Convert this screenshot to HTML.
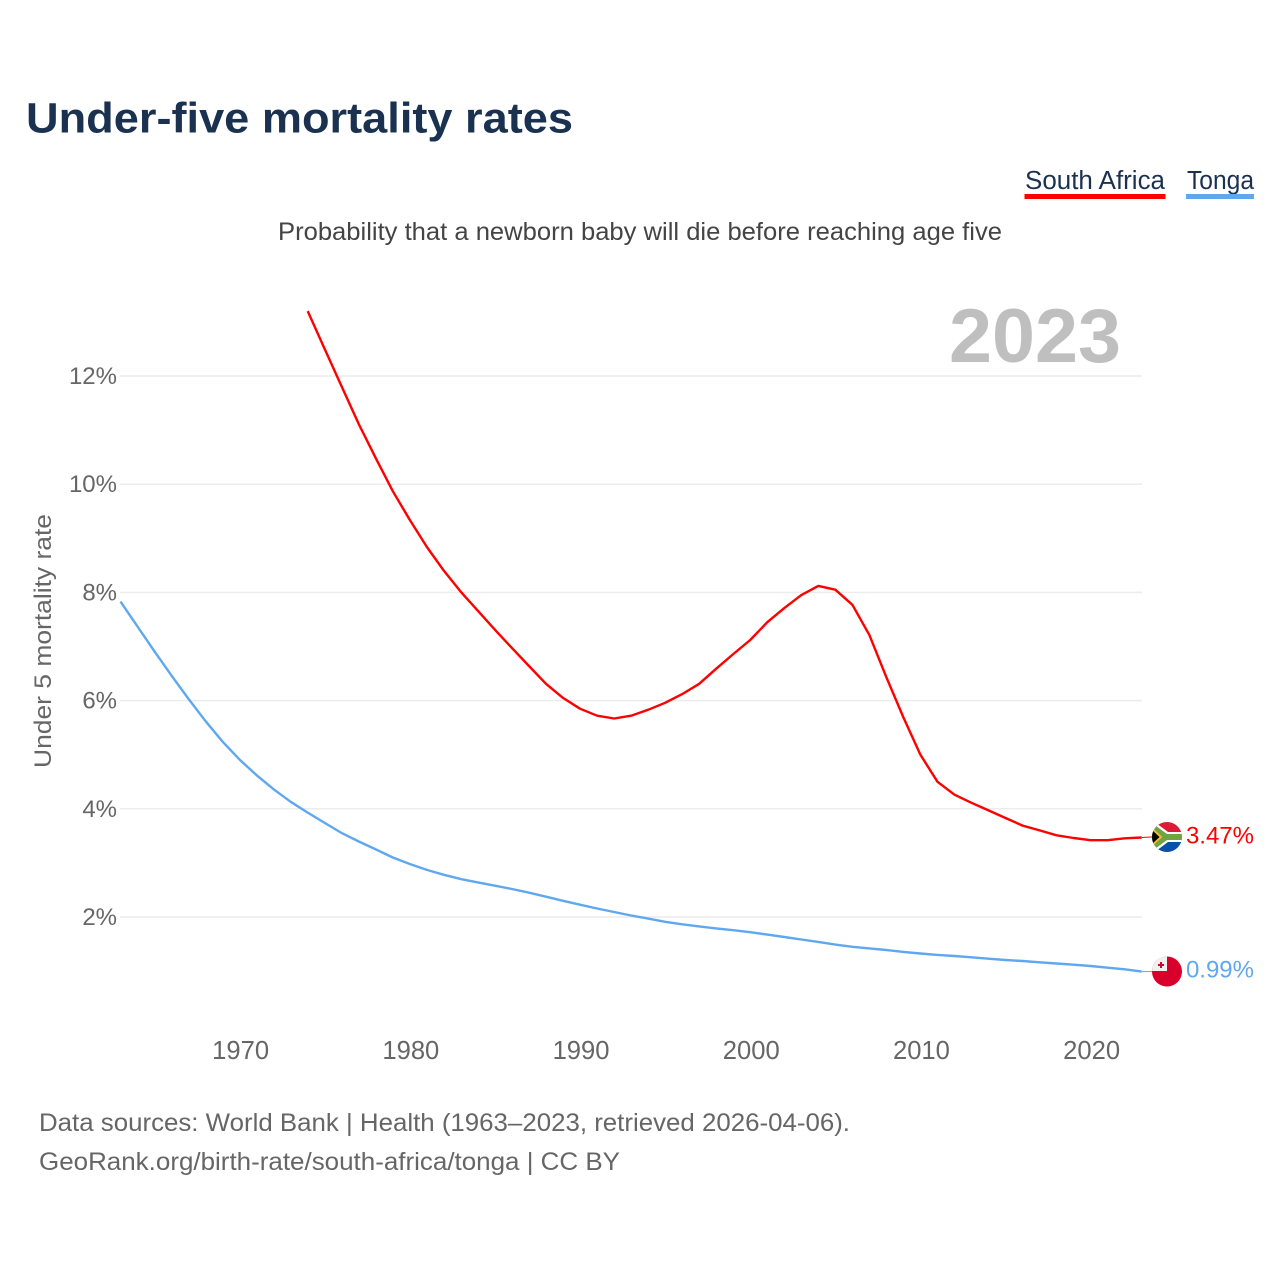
<!DOCTYPE html>
<html lang="en">
<head>
<meta charset="utf-8">
<title>Under-five mortality rates</title>
<style>
html,body{margin:0;padding:0;background:#fff;width:1280px;height:1280px;overflow:hidden}
svg{display:block;font-family:"Liberation Sans",sans-serif}
</style>
</head>
<body>
<svg id="chart" width="1280" height="1280" viewBox="0 0 1280 1280" xmlns="http://www.w3.org/2000/svg">
  <defs>
    <clipPath id="clip-za"><circle cx="1167" cy="837" r="15"/></clipPath>
    <clipPath id="clip-to"><circle cx="1167" cy="971.500" r="15"/></clipPath>
  </defs>
  <rect width="1280" height="1280" fill="#fff"/>
  <text x="26" y="132.500" font-size="43" font-weight="700" fill="#1a3150" textLength="547" lengthAdjust="spacingAndGlyphs">Under-five mortality rates</text>
  <g>
    <text x="1025" y="189" font-size="25.500" fill="#1a3150" textLength="140" lengthAdjust="spacingAndGlyphs">South Africa</text>
    <rect x="1024.500" y="194" width="141" height="5" fill="#ff0000"/>
    <text x="1187" y="189" font-size="25.500" fill="#1a3150" textLength="67" lengthAdjust="spacingAndGlyphs">Tonga</text>
    <rect x="1186" y="194" width="68" height="5" fill="#5fa8f0"/>
  </g>
  <text x="278" y="240" font-size="25" fill="#444" textLength="724" lengthAdjust="spacingAndGlyphs">Probability that a newborn baby will die before reaching age five</text>
  <text x="949" y="362" font-size="76" font-weight="700" fill="#bfbfbf" textLength="172" lengthAdjust="spacingAndGlyphs">2023</text>
  <text transform="translate(51,768) rotate(-90)" x="0" y="0" font-size="24.500" fill="#666" textLength="254" lengthAdjust="spacingAndGlyphs">Under 5 mortality rate</text>
  <g id="grid"></g>
  <g id="yticks"></g>
  <g id="xticks"></g>
  <g id="series"></g>

  <g clip-path="url(#clip-za)">
    <rect x="1152" y="822" width="30" height="15" fill="#de1b36"/>
    <rect x="1152" y="837" width="30" height="15" fill="#0a4fa8"/>
    <path d="M1152 820 L1168 832 H1182 V842 H1168 L1152 854 Z" fill="#fff"/>
    <path d="M1152 823 L1167 834 H1182 V840 H1167 L1152 851 Z" fill="#6da544"/>
    <path d="M1152 827.500 L1162.500 837 L1152 846.500 Z" fill="#f4b92c"/>
    <path d="M1152 830 L1159.500 837 L1152 844 Z" fill="#000"/>
  </g>
  <g clip-path="url(#clip-to)">
    <rect x="1152" y="956" width="30" height="31" fill="#d8002a"/>
    <rect x="1152" y="956" width="15" height="15" fill="#f0f0f0"/>
    <rect x="1158" y="964" width="6" height="2" fill="#d8002a"/>
    <rect x="1160" y="962" width="2" height="6" fill="#d8002a"/>
  </g>
  <text x="1254" y="843.500" font-size="24" fill="#ff0000" text-anchor="end">3.47%</text>
  <text x="1254" y="977.500" font-size="24" fill="#5fa8f0" text-anchor="end">0.99%</text>

  <text x="39" y="1131" font-size="25" fill="#666" textLength="811" lengthAdjust="spacingAndGlyphs">Data sources: World Bank | Health (1963–2023, retrieved 2026-04-06).</text>
  <text x="39" y="1170" font-size="25" fill="#666" textLength="581" lengthAdjust="spacingAndGlyphs">GeoRank.org/birth-rate/south-africa/tonga | CC BY</text>
</svg>
<script>
const yTickValues = [2, 4, 6, 8, 10, 12];
const xTickYears = [1970, 1980, 1990, 2000, 2010, 2020];
const southAfricaStartYear = 1974;
const southAfricaValues = [13.2,12.5,11.8,11.11,10.48,9.87,9.34,8.84,8.40,8.01,7.66,7.31,6.97,6.64,6.31,6.05,5.85,5.72,5.67,5.72,5.83,5.96,6.12,6.31,6.59,6.86,7.12,7.45,7.71,7.95,8.12,8.05,7.77,7.21,6.43,5.69,5.0,4.50,4.26,4.11,3.97,3.83,3.69,3.60,3.51,3.46,3.42,3.42,3.455,3.47];
const tongaStartYear = 1963;
const tongaValues = [7.83,7.37,6.91,6.46,6.03,5.62,5.24,4.91,4.62,4.36,4.13,3.93,3.74,3.55,3.395,3.25,3.10,2.98,2.87,2.78,2.70,2.64,2.578,2.517,2.45,2.375,2.30,2.227,2.157,2.092,2.028,1.97,1.911,1.865,1.826,1.79,1.756,1.719,1.675,1.63,1.585,1.54,1.49,1.45,1.42,1.39,1.355,1.325,1.30,1.28,1.255,1.23,1.205,1.187,1.163,1.14,1.118,1.094,1.063,1.033,0.99];

const SVG_NS = 'http://www.w3.org/2000/svg';
const xScale = function (year) { return 120.5 + (year - 1963) * 17.02; };
const yScale = function (value) { return 1025.2 - value * 54.1; };

const gridGroup = document.getElementById('grid');
const yTickGroup = document.getElementById('yticks');
yTickValues.forEach(function (value) {
  const line = document.createElementNS(SVG_NS, 'line');
  
  
  line.setAttribute('x1', 120);
  line.setAttribute('x2', 1142);
  line.setAttribute('y1', yScale(value));
  line.setAttribute('y2', yScale(value));
  line.setAttribute('stroke', '#ececec');
  line.setAttribute('stroke-width', 1.5);
  gridGroup.appendChild(line);

  const label = document.createElementNS(SVG_NS, 'text');
  
  
  label.setAttribute('x', 117);
  label.setAttribute('y', yScale(value) + 8);
  label.setAttribute('text-anchor', 'end');
  label.setAttribute('font-size', 24);
  label.setAttribute('fill', '#666');
  label.textContent = value + '%';
  yTickGroup.appendChild(label);
});

const xTickGroup = document.getElementById('xticks');
xTickYears.forEach(function (year) {
  const label = document.createElementNS(SVG_NS, 'text');
  
  
  label.setAttribute('x', xScale(year) + 1);
  label.setAttribute('y', 1059);
  label.setAttribute('text-anchor', 'middle');
  label.setAttribute('font-size', 25.6);
  label.setAttribute('fill', '#666');
  label.textContent = year;
  xTickGroup.appendChild(label);
});

const pointsFor = function (startYear, values) {
  return values.map(function (value, i) {
    return xScale(startYear + i).toFixed(1) + ',' + yScale(value).toFixed(1);
  }).join(' ');
};
const seriesGroup = document.getElementById('series');

const southAfricaLine = document.createElementNS(SVG_NS, 'polyline');


southAfricaLine.setAttribute('points', pointsFor(southAfricaStartYear, southAfricaValues));
southAfricaLine.setAttribute('fill', 'none');
southAfricaLine.setAttribute('stroke', '#ff0000');
southAfricaLine.setAttribute('stroke-width', 2.4);
southAfricaLine.setAttribute('stroke-linejoin', 'round');
seriesGroup.appendChild(southAfricaLine);

const tongaLine = document.createElementNS(SVG_NS, 'polyline');


tongaLine.setAttribute('points', pointsFor(tongaStartYear, tongaValues));
tongaLine.setAttribute('fill', 'none');
tongaLine.setAttribute('stroke', '#5fa8f0');
tongaLine.setAttribute('stroke-width', 2.4);
tongaLine.setAttribute('stroke-linejoin', 'round');
seriesGroup.appendChild(tongaLine);

const southAfricaLast = southAfricaValues[southAfricaValues.length - 1];
const southAfricaConnector = document.createElementNS(SVG_NS, 'line');


southAfricaConnector.setAttribute('x1', 1142);
southAfricaConnector.setAttribute('x2', 1152);
southAfricaConnector.setAttribute('y1', yScale(southAfricaLast));
southAfricaConnector.setAttribute('y2', 837);
southAfricaConnector.setAttribute('stroke', '#ff0000');
southAfricaConnector.setAttribute('stroke-width', 1);
seriesGroup.appendChild(southAfricaConnector);

const tongaLast = tongaValues[tongaValues.length - 1];
const tongaConnector = document.createElementNS(SVG_NS, 'line');


tongaConnector.setAttribute('x1', 1142);
tongaConnector.setAttribute('x2', 1152);
tongaConnector.setAttribute('y1', yScale(tongaLast));
tongaConnector.setAttribute('y2', 971.5);
tongaConnector.setAttribute('stroke', '#5fa8f0');
tongaConnector.setAttribute('stroke-width', 1);
seriesGroup.appendChild(tongaConnector);
</script>
</body>
</html>
